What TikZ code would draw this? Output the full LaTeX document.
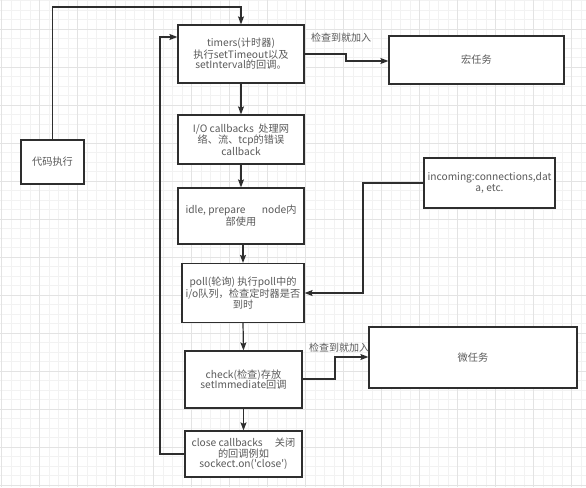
\documentclass[tikz,border=0pt]{standalone}
\usepackage{fontspec}
\setmainfont{Noto Sans CJK SC}[Ligatures=TeXOff]
\usetikzlibrary{arrows.meta}
\definecolor{txt}{HTML}{5A5A5A}
\definecolor{ln}{HTML}{2E2E2E}
\definecolor{gmin}{HTML}{F2F2F2}
\definecolor{gmaj}{HTML}{E3E3E3}
\tikzset{
  box/.style={draw=ln, line width=1.2pt, fill=white, text=txt, align=center, inner sep=1pt,
    font=\fontsize{10.2}{10.4}\selectfont},
  conn/.style={draw=ln, line width=1.2pt, -{Stealth[length=8pt,width=6pt,inset=1.5pt]}},
  lbl/.style={text=txt, font=\fontsize{10}{10.5}\selectfont, inner sep=0pt}
}
\begin{document}
\begin{tikzpicture}[x=1pt,y=-1pt]
\useasboundingbox (0,0) rectangle (586,487);
\fill[white] (0,0) rectangle (586,487);
% grid
\foreach \i in {0,...,62} {\draw[gmin, line width=0.5pt] (1.5+\i*9.5,0) -- (1.5+\i*9.5,487);}
\foreach \i in {0,...,52} {\draw[gmin, line width=0.5pt] (0,0.5+\i*9.5) -- (586,0.5+\i*9.5);}
\foreach \i in {0,...,15} {\draw[gmaj, line width=0.6pt] (1.5+\i*38,0) -- (1.5+\i*38,487);}
\foreach \i in {0,...,13} {\draw[gmaj, line width=0.6pt] (0,-9+\i*38) -- (586,-9+\i*38);}

% nodes
\node[box, minimum width=63pt, minimum height=44pt] (code) at (52.5,162) {代码执行};
\node[box, minimum width=126pt, minimum height=58pt] (timers) at (241,54)
  {timers(计时器)\\执行setTimeout以及\\setInterval的回调。};
\node[box, minimum width=126pt, minimum height=49pt] (io) at (241,139.5)
  {I/O callbacks\ \ 处理网\\络、流、tcp的错误\\callback};
\node[box, minimum width=126pt, minimum height=56pt] (idle) at (241,216)
  {idle, prepare\hspace{1.6em}node内\\部使用};
\node[box, minimum width=122pt, minimum height=59pt] (poll) at (243,293)
  {poll(轮询) 执行poll中的\\i/o队列，检查定时器是否\\到时};
\node[box, minimum width=117pt, minimum height=57pt] (check) at (243.5,379.5)
  {check(检查)存放\\setImmediate回调};
\node[box, minimum width=117pt, minimum height=46pt] (close) at (243.5,454)
  {close callbacks\hspace{1.2em}关闭\\的回调例如\\sockect.on('close')};
\node[box, minimum width=175pt, minimum height=48pt] (macro) at (476.5,60) {宏任务};
\node[box, minimum width=131pt, minimum height=50pt] (inc) at (489.5,183)
  {incoming:connections,dat\\a, etc.};
\node[box, minimum width=208pt, minimum height=61pt] (micro) at (473,357.5) {微任务};

% connectors
\draw[conn] (code.north) |- (241,7) -- (timers.north);
\draw[conn] (timers.south) -- (io.north);
\draw[conn] (io.south) -- (idle.north);
\draw[conn] (243,244) -- (poll.north);
\draw[conn] (poll.south) -- (check.north);
\draw[conn] (check.south) -- (close.north);
\draw[conn] (close.west) -- (160,454) |- (timers.west |- 0,37);
\coordinate (m1) at (346,54);
\draw[conn] (timers.east |- m1) -- (m1) |- (macro.west |- 0,61);
\draw[conn] (inc.west) -- (363,183) |- (poll.east |- 0,293);
\draw[conn] (check.east |- 0,379) -- (335,379) |- (micro.west |- 0,357);

% labels
\node[lbl] (l1) at (341,38) {检查到就加入};
\node[lbl] (l2) at (339,348) {检查到就加入};
\end{tikzpicture}
\end{document}
